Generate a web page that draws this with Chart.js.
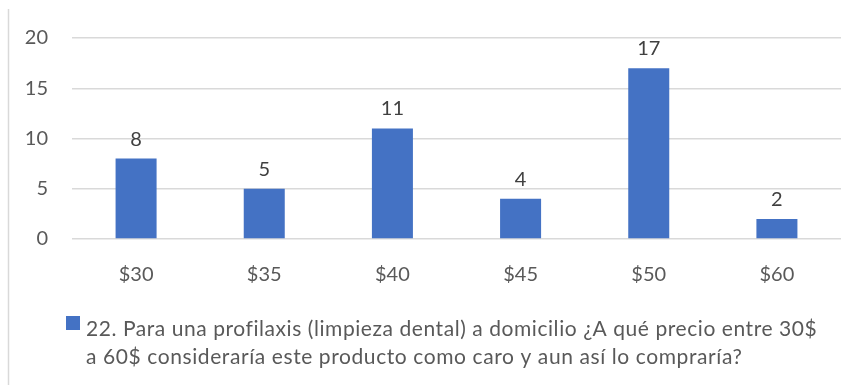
<!DOCTYPE html>
<html>
<head>
<meta charset="utf-8">
<script src="https://cdn.jsdelivr.net/npm/chart.js@4/dist/chart.umd.min.js"></script>
<style>
  html, body { margin: 0; padding: 0; background: #ffffff; }
  #wrap { width: 858px; height: 385px; position: relative; }
</style>
</head>
<body>
<div id="wrap"><canvas id="c" width="858" height="385"></canvas></div>
<script>
// Price options and number of answers for each
const categories = ['$30', '$35', '$40', '$45', '$50', '$60'];
const answers = [8, 5, 11, 4, 17, 2];
const yTicks = [0, 5, 10, 15, 20];
const seriesName = '22. Para una profilaxis (limpieza dental) a domicilio ¿A qué precio entre 30$ a 60$ consideraría este producto como caro y aun así lo compraría?';
const legendLines = [
  '22. Para una profilaxis (limpieza dental) a domicilio ¿A qué precio entre 30$',
  'a 60$ consideraría este producto como caro y aun así lo compraría?'
];

const FONT = 'Lato, "Open Sans", sans-serif';
const BLUE = '#4472C4';
const TEXT = '#595959';
const GRID = '#d9d9d9';

// Draw a line of text stretched to a given width with extra letter spacing
function spacedText(ctx, text, x, y, width) {
  ctx.letterSpacing = '0px';
  const w = ctx.measureText(text).width;
  const extra = Math.max(0, (width - w) / Math.max(1, text.length - 1));
  ctx.letterSpacing = extra.toFixed(2) + 'px';
  ctx.fillText(text, x, y);
  ctx.letterSpacing = '0px';
}

// Value labels over the bars, the left frame line and the legend block
const extras = {
  id: 'extras',
  afterDatasetsDraw(chart) {
    const ctx = chart.ctx;
    const meta = chart.getDatasetMeta(0);
    ctx.save();
    ctx.font = '20px ' + FONT;
    ctx.fillStyle = '#404040';
    ctx.textAlign = 'center';
    ctx.textBaseline = 'alphabetic';
    meta.data.forEach((bar, i) => {
      ctx.fillText(String(answers[i]), bar.x, bar.y - 13);
    });
    ctx.restore();
  },
  afterDraw(chart) {
    const ctx = chart.ctx;
    ctx.save();
    ctx.strokeStyle = GRID;
    ctx.lineWidth = 1.5;
    ctx.beginPath();
    ctx.moveTo(8.5, 9);
    ctx.lineTo(8.5, 385);
    ctx.stroke();

    ctx.fillStyle = BLUE;
    ctx.fillRect(66, 316, 14, 14);
    ctx.font = '21px ' + FONT;
    ctx.fillStyle = TEXT;
    ctx.textAlign = 'left';
    ctx.textBaseline = 'alphabetic';
    spacedText(ctx, legendLines[0], 86, 336, 730);
    spacedText(ctx, legendLines[1], 86, 364, 656);
    ctx.restore();
  }
};

new Chart(document.getElementById('c'), {
  type: 'bar',
  data: {
    labels: categories,
    datasets: [{
      label: seriesName,
      data: answers,
      backgroundColor: BLUE,
      borderWidth: 0,
      categoryPercentage: 1.0,
      barPercentage: 0.32
    }]
  },
  options: {
    responsive: false,
    animation: false,
    devicePixelRatio: 1,
    layout: { padding: { left: 0, right: 17, top: 38, bottom: 0 } },
    plugins: {
      legend: { display: false },
      tooltip: { enabled: false }
    },
    scales: {
      x: {
        grid: { display: false, drawTicks: false },
        border: { display: false },
        ticks: { color: TEXT, font: { family: FONT, size: 20 }, padding: 24 },
        afterFit(scale) { scale.height = 146; }
      },
      y: {
        min: 0,
        max: 20,
        afterBuildTicks(scale) { scale.ticks = yTicks.map(v => ({ value: v })); },
        grid: { color: GRID, lineWidth: 1.5, drawTicks: false },
        border: { display: false },
        ticks: { color: TEXT, font: { family: FONT, size: 20 }, padding: 24 },
        afterFit(scale) { scale.width = 72; }
      }
    }
  },
  plugins: [extras]
});
</script>
</body>
</html>
